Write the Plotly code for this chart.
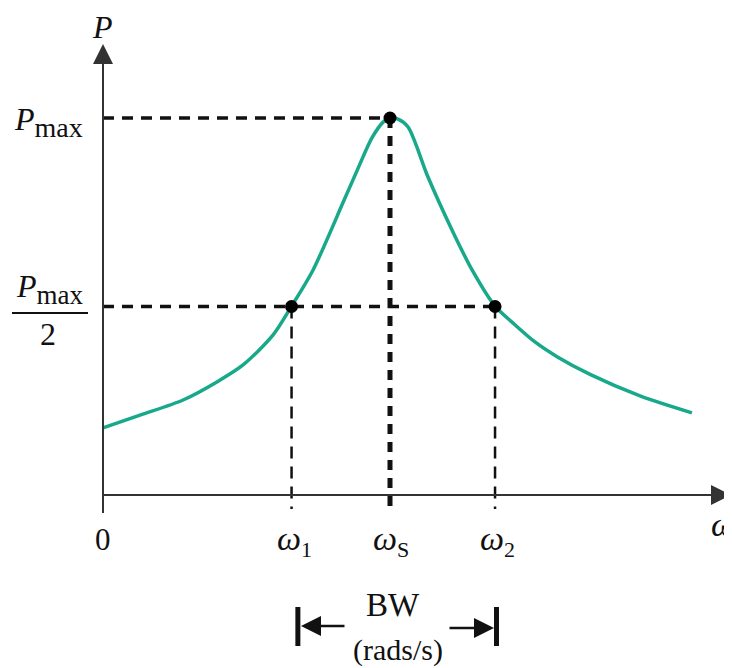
import plotly.graph_objects as go

# ---- data (omega in units of omega_s, P in units of Pmax) ----
omega = [0.0, 0.129, 0.279, 0.397, 0.488, 0.592, 0.657, 0.732, 0.836, 0.889, 0.937, 0.976, 1.0,
         1.028, 1.063, 1.132, 1.216, 1.286, 1.366, 1.429, 1.505, 1.582, 1.697, 1.871, 2.052]
power = [0.178, 0.212, 0.252, 0.300, 0.345, 0.424, 0.501, 0.597, 0.775, 0.867, 0.947, 0.989, 1.0,
         0.997, 0.976, 0.844, 0.703, 0.597, 0.501, 0.456, 0.406, 0.367, 0.320, 0.263, 0.218]
key_omega = [0.657, 1.0, 1.366]          # omega1, omega_s, omega2
key_power = [0.5, 1.0, 0.5]
p_max = 1.0
p_half = 0.5
x_tick_labels = ["0",
                 "<i>ω</i><sub><span style='font-size:22px'>1</span></sub>",
                 "<i>ω</i><sub><span style='font-size:22px'>S</span></sub>",
                 "<i>ω</i><sub><span style='font-size:22px'>2</span></sub>"]

# ---- pixel helpers for layout (origin at page px 103, 495) ----
SX, SY, OX, OY = 287.0, 377.0, 103.0, 495.0
PAGE_OFF = 8  # default body margin of the html page
def dx(px):
    return (px - OX) / SX
def dy(py):
    return (OY - py) / SY

FONT = "Liberation Serif"
INK = "#111111"
AX = "#333333"
TEAL = "#18a88a"

fig = go.Figure()

# dashed reference lines
fig.add_trace(go.Scatter(x=[0, key_omega[1]], y=[p_max, p_max], mode="lines",
                         line=dict(color=INK, width=3.5, dash="11px,8px"), hoverinfo="skip"))
fig.add_trace(go.Scatter(x=[0, key_omega[2]], y=[p_half, p_half], mode="lines",
                         line=dict(color=INK, width=3.5, dash="11px,8px"), hoverinfo="skip"))
fig.add_trace(go.Scatter(x=[key_omega[1], key_omega[1]], y=[p_max, dy(512)], mode="lines",
                         line=dict(color=INK, width=5, dash="10px,8px"), hoverinfo="skip"))
for w in (key_omega[0], key_omega[2]):
    fig.add_trace(go.Scatter(x=[w, w], y=[p_half, dy(509)], mode="lines",
                             line=dict(color=INK, width=2.5, dash="12px,8px"), hoverinfo="skip"))

# curve
fig.add_trace(go.Scatter(x=omega, y=power, mode="lines", line_shape="spline",
                         line=dict(color=TEAL, width=3.5, smoothing=0.8), hoverinfo="skip"))
# key points
fig.add_trace(go.Scatter(x=key_omega, y=key_power, mode="markers",
                         marker=dict(color="black", size=13), hoverinfo="skip"))

# axes lines
fig.add_shape(type="line", x0=0, x1=0, y0=dy(513), y1=dy(62), line=dict(color=AX, width=2))
fig.add_shape(type="line", x0=0, x1=dx(712), y0=0, y1=0, line=dict(color=AX, width=2))

anns = []
# axis arrows
anns.append(dict(x=0, y=dy(44), ax=0, ay=dy(90), xref="x", yref="y", axref="x", ayref="y",
                 showarrow=True, arrowhead=2, arrowsize=2, arrowwidth=2, arrowcolor=AX, text=""))
anns.append(dict(x=dx(731), y=0, ax=dx(680), ay=0, xref="x", yref="y", axref="x", ayref="y",
                 showarrow=True, arrowhead=2, arrowsize=2, arrowwidth=2, arrowcolor=AX, text=""))

def label(text, xp, yp, size=32, xanchor="center"):
    anns.append(dict(x=dx(xp), y=dy(yp), xref="x", yref="y", text=text, showarrow=False,
                     xanchor=xanchor, yanchor="middle", font=dict(family=FONT, size=size, color=INK)))

label("<i>P</i>", 102, 27)
label("<i>P</i><sub><span style='font-size:28px'>max</span></sub>", 48, 122)
label("<i>P</i><sub><span style='font-size:27px'>max</span></sub>", 50, 289)
label("2", 48, 334)
fig.add_shape(type="line", x0=dx(12), x1=dx(88), y0=dy(313), y1=dy(313), line=dict(color=INK, width=2))
label("<i>ω</i>", 709, 524, size=34, xanchor="left")

# x tick labels
x_lab_px = [103, 294, 391, 497]
x_lab_py = [539, 541, 541, 541]
for i, (t, xp, yp) in enumerate(zip(x_tick_labels, x_lab_px, x_lab_py)):
    label(t, xp, yp, size=31 if i == 0 else 34)

# BW annotation
label("BW", 393, 605, size=33)
label("(rads/s)", 398, 650, size=30)
bw_left, bw_right = key_omega[0] + 0.022, key_omega[2] + 0.005
for bx in (bw_left, bw_right):
    fig.add_shape(type="line", x0=bx, x1=bx, y0=dy(607), y1=dy(646), line=dict(color=INK, width=5))
anns.append(dict(x=dx(301), y=dy(626), ax=dx(346), ay=dy(626), xref="x", yref="y", axref="x", ayref="y",
                 showarrow=True, arrowhead=2, arrowsize=1.6, arrowwidth=2.5, arrowcolor=INK, text=""))
anns.append(dict(x=dx(494), y=dy(628), ax=dx(448), ay=dy(628), xref="x", yref="y", axref="x", ayref="y",
                 showarrow=True, arrowhead=2, arrowsize=1.6, arrowwidth=2.5, arrowcolor=INK, text=""))

fig.update_layout(
    width=732, height=668, margin=dict(l=0, r=0, t=0, b=0),
    paper_bgcolor="white", plot_bgcolor="white", showlegend=False,
    xaxis=dict(range=[dx(PAGE_OFF), dx(732 + PAGE_OFF)], visible=False, fixedrange=True),
    yaxis=dict(range=[dy(668 + PAGE_OFF), dy(PAGE_OFF)], visible=False, fixedrange=True),
    annotations=anns,
)

fig.write_html("out.html")
